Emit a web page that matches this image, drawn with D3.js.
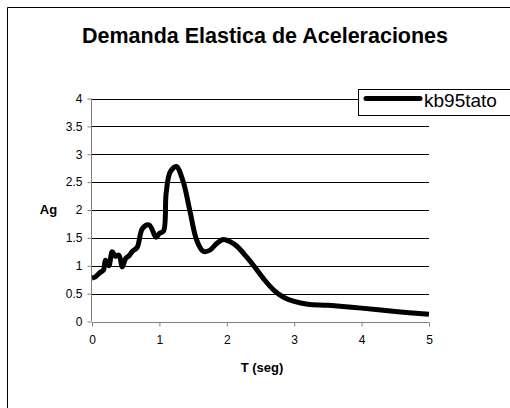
<!DOCTYPE html>
<html><head><meta charset="utf-8">
<script src="https://cdn.jsdelivr.net/npm/d3@7"></script>
<style>body{margin:0;background:#fff}svg{display:block}text{font-family:"Liberation Sans",Arial,sans-serif}</style>
</head><body>
<script>
const T = [0,0.05,0.12,0.17,0.2,0.25,0.3,0.35,0.4,0.45,0.5,0.55,0.6,0.67,0.75,0.85,0.95,1.0,1.06,1.1,1.16,1.25,1.35,1.45,1.55,1.65,1.75,1.85,1.95,2.05,2.15,2.3,2.4,2.55,2.7,2.85,3.0,3.2,3.5,4.0,4.5,5.0];
const Ag = [0.78,0.8,0.88,0.92,1.1,1.0,1.25,1.17,1.19,0.98,1.13,1.18,1.26,1.33,1.67,1.73,1.51,1.58,1.62,2.3,2.68,2.78,2.52,2.0,1.47,1.26,1.28,1.4,1.47,1.43,1.35,1.15,1.0,0.76,0.56,0.43,0.36,0.31,0.29,0.24,0.18,0.13];
const xTicks = [0,1,2,3,4,5];
const yTicks = [0,0.5,1,1.5,2,2.5,3,3.5,4];
const seriesName = "kb95tato";
const title = "Demanda Elastica de Aceleraciones";

const W=510,H=408;
const svg=d3.select("body").append("svg").attr("width",W).attr("height",H);
svg.append("path").attr("d","M7.5,408 L7.5,7.5 L510,7.5").attr("fill","none").attr("stroke","#000").attr("stroke-width",1);

const x=d3.scaleLinear().domain([0,5]).range([92,429]);
const y=d3.scaleLinear().domain([0,4]).range([321.5,98.5]);

svg.append("g").selectAll("line").data(yTicks.filter(d=>d>0)).join("line")
  .attr("x1",x(0)).attr("x2",x(5)).attr("y1",d=>Math.round(y(d))+0.5).attr("y2",d=>Math.round(y(d))+0.5)
  .attr("stroke","#000").attr("stroke-width",1);

const ya=svg.append("g").attr("transform",`translate(${x(0)-0.5},0)`)
  .call(d3.axisLeft(y).tickValues(yTicks).tickSize(4).tickPadding(5).tickFormat(d=>String(d)));
const xa=svg.append("g").attr("transform",`translate(0,${Math.round(y(0))+0.5})`)
  .call(d3.axisBottom(x).tickValues(xTicks).tickSize(4).tickPadding(9).tickFormat(d=>String(d)));
[ya,xa].forEach(a=>{a.selectAll("path,line").attr("stroke","#808080");a.selectAll("text").attr("font-size",12).attr("fill","#000").attr("font-family","Liberation Sans, Arial, sans-serif");});
ya.select(".domain").attr("d",`M0,${y(4)}V${y(0)}`);
xa.select(".domain").attr("d",`M${x(0)},0H${x(5)}`);

const pts=T.map((t,i)=>[t,Ag[i]]);
svg.append("path").datum(pts).attr("fill","none").attr("stroke","#000").attr("stroke-width",5)
  .attr("stroke-linejoin","round")
  .attr("d",d3.line().x(d=>x(d[0])).y(d=>y(d[1])).curve(d3.curveCatmullRom.alpha(0.5)));

svg.append("text").attr("x",265).attr("y",42.5).attr("text-anchor","middle").attr("font-size",21.5).attr("font-weight","bold").text(title);
svg.append("text").attr("x",48.5).attr("y",214).attr("text-anchor","middle").attr("font-size",13).attr("font-weight","bold").text("Ag");
svg.append("text").attr("x",262).attr("y",372).attr("text-anchor","middle").attr("font-size",13).attr("font-weight","bold").text("T (seg)");

const lg=svg.append("g");
lg.append("rect").attr("x",358.5).attr("y",89.5).attr("width",160).attr("height",26).attr("fill","#fff").attr("stroke","#000");
lg.append("line").attr("x1",366).attr("x2",420).attr("y1",98.5).attr("y2",98.5).attr("stroke","#000").attr("stroke-width",5).attr("stroke-linecap","round");
lg.append("text").attr("x",424).attr("y",106.5).attr("font-size",19).text(seriesName);
</script>
</body></html>
